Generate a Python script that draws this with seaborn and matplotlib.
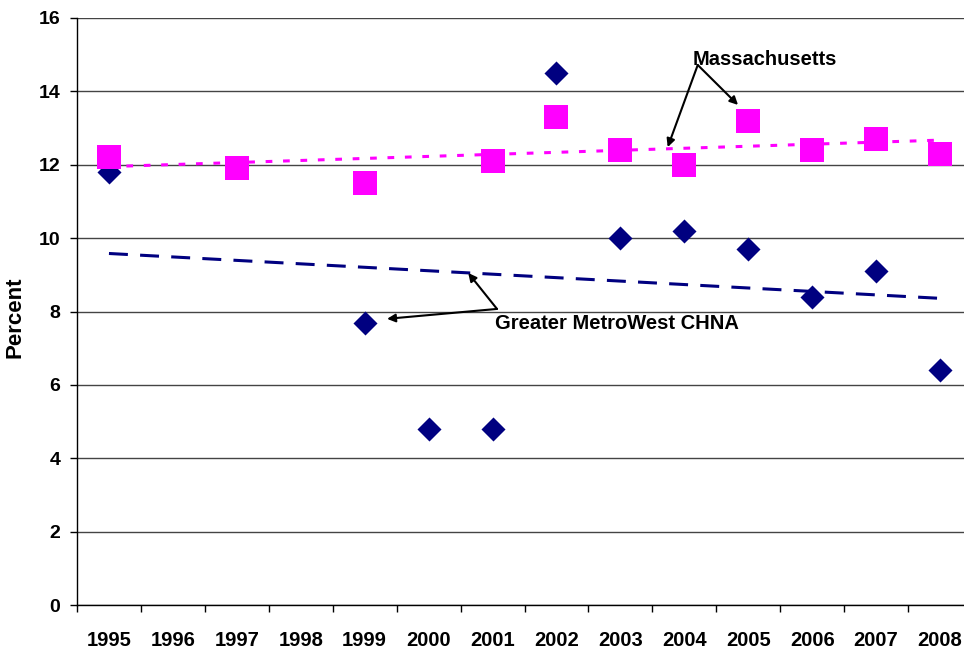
import numpy as np
import pandas as pd
import seaborn as sns
import matplotlib
matplotlib.use("Agg")
import matplotlib.pyplot as plt

years = ["1995", "1996", "1997", "1998", "1999", "2000", "2001",
         "2002", "2003", "2004", "2005", "2006", "2007", "2008"]
massachusetts = [12.2, np.nan, 11.9, np.nan, 11.5, np.nan, 12.1,
                 13.3, 12.4, 12.0, 13.2, 12.4, 12.7, 12.3]
metrowest = [11.8, np.nan, np.nan, np.nan, 7.7, 4.8, 4.8,
             14.5, 10.0, 10.2, 9.7, 8.4, 9.1, 6.4]

MAGENTA = "#FF00FF"
NAVY = "#000080"

sns.set_style("white")
plt.rcParams["font.family"] = ["Liberation Sans", "DejaVu Sans"]
plt.rcParams["font.weight"] = "bold"
plt.rcParams["text.color"] = "black"
plt.rcParams["axes.labelcolor"] = "black"
plt.rcParams["xtick.color"] = "black"
plt.rcParams["ytick.color"] = "black"

df = pd.DataFrame({"idx": np.arange(len(years)), "year": years,
                   "ma": massachusetts, "gmw": metrowest})

fig = plt.figure(figsize=(9.64, 6.48), dpi=100)
ax = fig.add_axes([77 / 964, 43 / 648, 895 / 964, 587 / 648])

# gridlines
ax.set_ylim(0, 16)
ax.set_xlim(-0.5, 13.5)
ax.set_yticks(np.arange(0, 17, 2))
ax.yaxis.grid(True, color="#444444", lw=1)
ax.set_axisbelow(True)

# trend lines (linear fit over category index, like Excel)
sns.regplot(data=df.dropna(subset=["ma"]), x="idx", y="ma", ax=ax,
            scatter=False, ci=None, truncate=True,
            line_kws=dict(color=MAGENTA, lw=2.2, linestyle=(0, (2.2, 3.5))))
sns.regplot(data=df.dropna(subset=["gmw"]), x="idx", y="gmw", ax=ax,
            scatter=False, ci=None, truncate=True,
            line_kws=dict(color=NAVY, lw=2.2, linestyle=(0, (6.2, 4))))

# points
sns.scatterplot(data=df, x="idx", y="gmw", ax=ax, marker="D", s=150,
                color=NAVY, edgecolor=NAVY, linewidth=0, zorder=3)
sns.scatterplot(data=df, x="idx", y="ma", ax=ax, marker="s", s=275,
                color=MAGENTA, edgecolor=MAGENTA, linewidth=0, zorder=4)

ax.set_xlim(-0.5, 13.5)
ax.set_ylim(0, 16)

# x ticks: marks between categories, labels at centers
ax.set_xticks(np.arange(-0.5, 14, 1))
ax.set_xticklabels([])
ax.set_xticks(np.arange(len(years)), minor=True)
ax.set_xticklabels(years, minor=True, fontsize=14.5, fontweight="bold")
ax.tick_params(axis="x", which="major", direction="out", length=5,
               width=1, color="black", bottom=True)
ax.tick_params(axis="x", which="minor", length=0, pad=18.5)
ax.tick_params(axis="y", direction="out", length=5, width=1,
               color="black", left=True, labelsize=14, pad=7)
for lab in ax.get_yticklabels():
    lab.set_fontweight("bold")

for s in ["top", "right"]:
    ax.spines[s].set_visible(False)
for s in ["left", "bottom"]:
    ax.spines[s].set_color("black")
    ax.spines[s].set_linewidth(1)

ax.set_xlabel("")
ax.set_ylabel("Percent", fontsize=16, fontweight="bold")
ax.yaxis.set_label_coords(-0.057, 0.49)

# annotations
arrow = dict(arrowstyle="-|>", color="black", lw=1.5, mutation_scale=12,
             shrinkA=0, shrinkB=0)
ax.text(9.13, 14.88, "Massachusetts", fontsize=14.5, fontweight="bold",
        va="center", ha="left")
ax.annotate("", xy=(8.74, 12.48), xytext=(9.21, 14.72), arrowprops=arrow)
ax.annotate("", xy=(9.84, 13.63), xytext=(9.21, 14.72), arrowprops=arrow)

ax.text(6.04, 7.66, "Greater MetroWest CHNA", fontsize=14.5,
        fontweight="bold", va="center", ha="left")
ax.annotate("", xy=(5.62, 9.05), xytext=(6.07, 8.07), arrowprops=arrow)
ax.annotate("", xy=(4.35, 7.80), xytext=(6.07, 8.07), arrowprops=arrow)

fig.savefig("out.png", dpi=100)
